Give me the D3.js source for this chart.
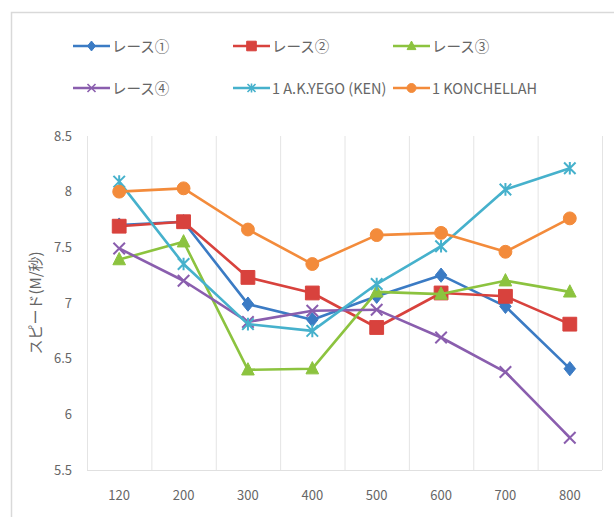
<!DOCTYPE html>
<html>
<head>
<meta charset="utf-8">
<script src="https://cdnjs.cloudflare.com/ajax/libs/d3/7.8.5/d3.min.js"></script>
<style>
  html, body { margin: 0; padding: 0; background: #fff; }
  svg { display: block; }
  text { font-family: "Noto Sans CJK JP", "Noto Sans", sans-serif; fill: #666; }
</style>
</head>
<body>
<svg id="chart" width="614" height="517"></svg>
<script>
// Distance checkpoints (m)
const categories = ["120", "200", "300", "400", "500", "600", "700", "800"];

// Speed (m/s) per series
const race1 = [7.70, 7.73, 6.99, 6.85, 7.06, 7.25, 6.97, 6.41];
const race2 = [7.69, 7.73, 7.23, 7.09, 6.78, 7.09, 7.06, 6.81];
const race3 = [7.39, 7.55, 6.40, 6.41, 7.10, 7.08, 7.20, 7.10];
const race4 = [7.49, 7.20, 6.83, 6.93, 6.94, 6.69, 6.38, 5.79];
const yego = [8.09, 7.35, 6.81, 6.75, 7.17, 7.51, 8.02, 8.21];
const konchellah = [8.00, 8.03, 7.66, 7.35, 7.61, 7.63, 7.46, 7.76];

const yTicks = [5.5, 6, 6.5, 7, 7.5, 8, 8.5];
const yTitle = "スピード(M/秒)";

const series = [
  { name: "レース①", values: race1, color: "#3b7bc4", marker: "diamond" },
  { name: "レース②", values: race2, color: "#d8423d", marker: "square" },
  { name: "レース③", values: race3, color: "#8cc33f", marker: "triangle" },
  { name: "レース④", values: race4, color: "#8a5eae", marker: "cross" },
  { name: "1 A.K.YEGO (KEN)", values: yego, color: "#46b1cc", marker: "star" },
  { name: "1 KONCHELLAH", values: konchellah, color: "#f38b3b", marker: "circle" }
];

const svg = d3.select("#chart");

// Outer chart frame
svg.append("rect")
  .attr("x", 11.5).attr("y", 12.5).attr("width", 620).attr("height", 520)
  .attr("fill", "#fff").attr("stroke", "#d9d9d9").attr("stroke-width", 1.5);

const plot = { left: 87, right: 602, top: 136, bottom: 470 };

const x = d3.scaleBand().domain(categories).range([plot.left, plot.right]);
const y = d3.scaleLinear().domain([5.5, 8.5]).range([plot.bottom, plot.top]);

// Vertical gridlines at category boundaries
const grid = svg.append("g");
categories.slice(1).forEach(c => {
  grid.append("line")
    .attr("x1", x(c) + 0.5).attr("x2", x(c) + 0.5)
    .attr("y1", plot.top).attr("y2", plot.bottom)
    .attr("stroke", "#e4e4e4").attr("stroke-width", 1);
});
// Plot area edges
grid.append("line")
  .attr("x1", plot.right + 0.5).attr("x2", plot.right + 0.5)
  .attr("y1", plot.top).attr("y2", plot.bottom)
  .attr("stroke", "#e4e4e4");
grid.append("line")
  .attr("x1", plot.left + 0.5).attr("x2", plot.left + 0.5)
  .attr("y1", plot.top).attr("y2", plot.bottom)
  .attr("stroke", "#e4e4e4");
grid.append("line")
  .attr("x1", plot.left).attr("x2", plot.right)
  .attr("y1", plot.bottom + 0.5).attr("y2", plot.bottom + 0.5)
  .attr("stroke", "#e0e0e0");

// Y axis tick labels
const yAxis = d3.axisLeft(y).tickValues(yTicks).tickSize(0).tickPadding(15)
  .tickFormat(d => String(d));
svg.append("g").attr("transform", `translate(${plot.left},0)`).call(yAxis)
  .call(g => g.select(".domain").remove())
  .call(g => g.selectAll("text")
    .style("font-family", "'Noto Sans CJK JP', sans-serif")
    .style("font-size", "13px").attr("fill", "#6e6e6e"));

// X axis tick labels
const xAxis = d3.axisBottom(x).tickSize(0).tickPadding(21);
svg.append("g").attr("transform", `translate(0,${plot.bottom})`).call(xAxis)
  .call(g => g.select(".domain").remove())
  .call(g => g.selectAll("text")
    .style("font-family", "'Noto Sans CJK JP', sans-serif")
    .style("font-size", "13px").attr("fill", "#6e6e6e"));

// Y axis title
svg.append("text")
  .attr("transform", `translate(34,303) rotate(-90)`)
  .attr("text-anchor", "middle")
  .attr("dominant-baseline", "central")
  .style("font-size", "15px")
  .text(yTitle);

// Marker shapes
function markerPath(type, s) {
  const p = d3.path();
  switch (type) {
    case "diamond":
      p.moveTo(0, -s * 0.62); p.lineTo(s * 0.5, 0); p.lineTo(0, s * 0.62); p.lineTo(-s * 0.5, 0); p.closePath();
      break;
    case "square":
      p.rect(-s * 0.6, -s * 0.6, s * 1.2, s * 1.2);
      break;
    case "triangle":
      p.moveTo(0, -s * 0.62); p.lineTo(s * 0.55, s * 0.45); p.lineTo(-s * 0.55, s * 0.45); p.closePath();
      break;
    case "circle":
      p.arc(0, 0, s * 0.56, 0, 2 * Math.PI);
      break;
    case "cross":
      p.moveTo(-s * 0.5, -s * 0.5); p.lineTo(s * 0.5, s * 0.5);
      p.moveTo(s * 0.5, -s * 0.5); p.lineTo(-s * 0.5, s * 0.5);
      break;
    case "star":
      p.moveTo(-s * 0.5, -s * 0.5); p.lineTo(s * 0.5, s * 0.5);
      p.moveTo(s * 0.5, -s * 0.5); p.lineTo(-s * 0.5, s * 0.5);
      p.moveTo(0, -s * 0.55); p.lineTo(0, s * 0.55);
      break;
  }
  return p.toString();
}
const stroked = t => t === "cross" || t === "star";

const line = d3.line()
  .x((d, i) => x(categories[i]) + x.bandwidth() / 2)
  .y(d => y(d));

const lines = svg.append("g");
series.forEach(s => {
  const g = lines.append("g");
  g.append("path")
    .attr("d", line(s.values))
    .attr("fill", "none").attr("stroke", s.color)
    .attr("stroke-width", 2.6).attr("stroke-linejoin", "round");
  g.selectAll("path.m").data(s.values).join("path")
    .attr("class", "m")
    .attr("transform", (d, i) => `translate(${x(categories[i]) + x.bandwidth() / 2},${y(d)})`)
    .attr("d", markerPath(s.marker, 11.5))
    .attr("fill", stroked(s.marker) ? "none" : s.color)
    .attr("stroke", s.color)
    .attr("stroke-width", stroked(s.marker) ? 2 : 1);
});

// Legend
const legendCols = [73, 233, 393];
const legendRows = [46, 88];
const legend = svg.append("g");
series.forEach((s, i) => {
  const lx = legendCols[i % 3];
  const ly = legendRows[Math.floor(i / 3)];
  const g = legend.append("g").attr("transform", `translate(${lx},${ly})`);
  g.append("line").attr("x1", 0).attr("x2", 37).attr("y1", 0).attr("y2", 0)
    .attr("stroke", s.color).attr("stroke-width", 2.6);
  g.append("path").attr("transform", "translate(18.5,0)")
    .attr("d", markerPath(s.marker, 8))
    .attr("fill", stroked(s.marker) ? "none" : s.color)
    .attr("stroke", s.color).attr("stroke-width", stroked(s.marker) ? 1.6 : 1);
  g.append("text").attr("x", 39).attr("y", 5.5)
    .style("font-size", "14.5px")
    .text(s.name);
});
</script>
</body>
</html>
